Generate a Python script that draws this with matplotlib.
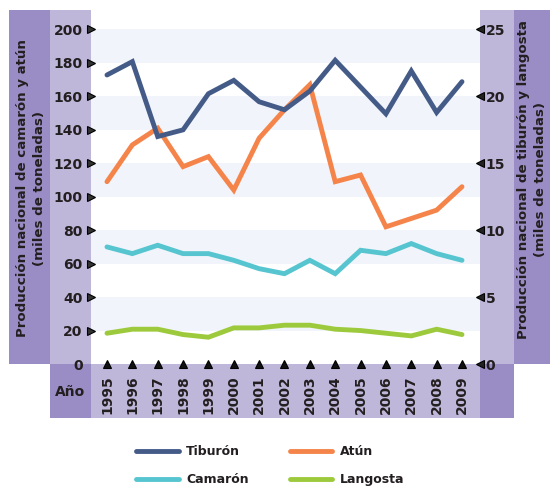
import matplotlib
matplotlib.use("Agg")
import matplotlib.pyplot as plt
from matplotlib.patches import Rectangle

# data
years = list(range(1995, 2010))
atun = [109, 131, 141, 118, 124, 104, 135, 152, 167, 109, 113, 82, 87, 92, 106]
camaron = [70, 66, 71, 66, 66, 62, 57, 54, 62, 54, 68, 66, 72, 66, 62]
tiburon = [21.6, 22.6, 17.0, 17.5, 20.2, 21.2, 19.6, 19.0, 20.4, 22.7, 20.7, 18.7, 21.9, 18.8, 21.1]
langosta = [2.3, 2.6, 2.6, 2.2, 2.0, 2.7, 2.7, 2.9, 2.9, 2.6, 2.5, 2.3, 2.1, 2.6, 2.2]
left_ticks = [0, 20, 40, 60, 80, 100, 120, 140, 160, 180, 200]
right_ticks = [0, 5, 10, 15, 20, 25]

dark = '#9a8cc4'
light = '#bfb7da'
band = '#f1f4fa'
txt = '#231f20'
W, H = 550, 487

plt.rcParams['font.family'] = 'DejaVu Sans'
fig = plt.figure(figsize=(5.5, 4.87), dpi=100)

def box(x0, y0, x1, y1, c):
    # rectangle in pixel coords (y from top)
    fig.add_artist(Rectangle((x0 / W, 1 - y1 / H), (x1 - x0) / W, (y1 - y0) / H,
                             transform=fig.transFigure, color=c, lw=0, zorder=0))

box(9, 10, 50, 364, dark)
box(50, 10, 91, 364, light)
box(50, 364, 91, 418, dark)
box(91, 364, 480, 418, light)
box(480, 10, 514, 364, light)
box(480, 364, 514, 418, dark)
box(514, 10, 550, 364, dark)

ax = fig.add_axes([91 / W, 1 - 364 / H, (480 - 91) / W, (364 - 29.5) / H])
ax.patch.set_alpha(0)
for lo in [20, 60, 100, 140, 180]:
    ax.axhspan(lo, lo + 20, color=band, lw=0, zorder=0)

ax2 = ax.twinx()
ax2.patch.set_alpha(0)

lw = 3.5
l_tib, = ax2.plot(years, tiburon, color='#445b88', lw=lw, solid_capstyle='round', solid_joinstyle='miter', label='Tiburón')
l_atun, = ax.plot(years, atun, color='#f5844a', lw=lw, solid_capstyle='round', solid_joinstyle='miter', label='Atún')
l_cam, = ax.plot(years, camaron, color='#56c5d0', lw=lw, solid_capstyle='round', solid_joinstyle='miter', label='Camarón')
l_lan, = ax2.plot(years, langosta, color='#9dca3c', lw=lw, solid_capstyle='round', solid_joinstyle='miter', label='Langosta')

ax.set_xlim(1994.37, 2009.71)
ax.set_ylim(0, 200)
ax2.set_ylim(0, 25)

for a in (ax, ax2):
    for s in a.spines.values():
        s.set_visible(False)

ax.set_yticks(left_ticks)
ax.set_yticklabels([str(v) for v in left_ticks], fontsize=10, fontweight='bold', color=txt)
ax.tick_params(axis='y', length=0, pad=6)
for i, t in enumerate(ax.yaxis.get_major_ticks()):
    t.tick1line.set_marker('>')
    t.tick1line.set_markersize(5.5 if i > 0 else 0)
    t.tick1line.set_color('#333333')

ax2.set_yticks(right_ticks)
ax2.set_yticklabels([str(v) for v in right_ticks], fontsize=10, fontweight='bold', color=txt)
ax2.tick_params(axis='y', length=0, pad=4)
for t in ax2.yaxis.get_major_ticks():
    t.tick2line.set_marker('<')
    t.tick2line.set_markersize(5.5)
    t.tick2line.set_color('#222222')

ax.set_xticks(years)
ax.set_xticklabels([str(y) for y in years], rotation=90, fontsize=10, fontweight='bold', color=txt, va='top')
ax.tick_params(axis='x', length=0, pad=8)
for t in ax.xaxis.get_major_ticks():
    t.tick1line.set_marker('^')
    t.tick1line.set_markersize(5.5)
    t.tick1line.set_color('#111111')

fig.text(70 / W, 1 - 392 / H, 'Año', ha='center', va='center', fontsize=10, fontweight='bold', color=txt)
fig.text(31 / W, 1 - 188 / H, 'Producción nacional de camarón y atún\n(miles de toneladas)',
         rotation=90, ha='center', va='center', fontsize=9.6, fontweight='bold', color=txt,
         linespacing=1.35, multialignment='center')
fig.text(532 / W, 1 - 180 / H, 'Producción nacional de tiburón y langosta\n(miles de toneladas)',
         rotation=90, ha='center', va='center', fontsize=9.6, fontweight='bold', color=txt,
         linespacing=1.35, multialignment='center')

leg = fig.legend([l_tib, l_cam, l_atun, l_lan], ['Tiburón', 'Camarón', 'Atún', 'Langosta'],
                 ncol=2, loc='upper left', bbox_to_anchor=(136 / W, 1 - 445 / H),
                 frameon=False, borderpad=0, borderaxespad=0, handlelength=3.4,
                 handletextpad=0.6, columnspacing=3.3, labelspacing=1.2,
                 prop={'size': 9, 'weight': 'bold'})
for t in leg.get_texts():
    t.set_color(txt)
for h in leg.legend_handles:
    h.set_solid_capstyle('round')

fig.savefig('out.png', dpi=100)
